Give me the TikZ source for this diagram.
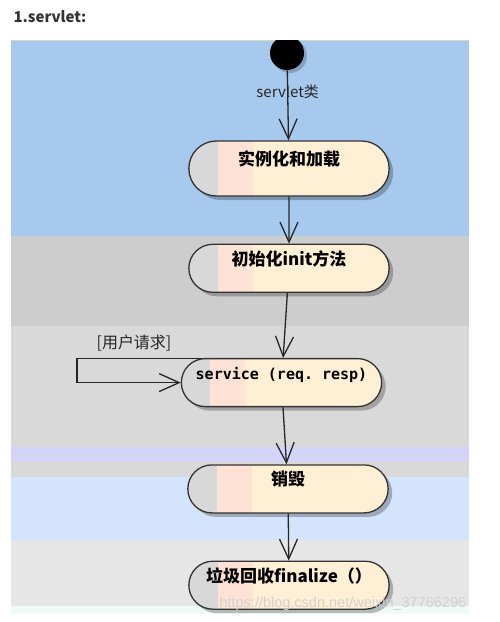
\documentclass[tikz,border=0pt]{standalone}
\usepackage{fontspec}
\setmainfont{Noto Sans CJK SC}
\setmonofont{DejaVu Sans Mono}
\newfontfamily\wmfont{Liberation Sans}
\usetikzlibrary{
  shapes.misc,  % Shape "rounded rectangle"
  arrows.meta,
  positioning,  % Function "of" (e.g. [below=of x])
  shadows,      % Style "drop shadow"
}
\definecolor{bandblue}{RGB}{167,201,238}
\definecolor{bandgray}{RGB}{205,205,205}
\definecolor{bandlight}{RGB}{217,217,217}
\definecolor{bandlilac}{RGB}{212,212,248}
\definecolor{bandsky}{RGB}{212,228,252}
\definecolor{bandpale}{RGB}{230,230,230}
\definecolor{bandmint}{RGB}{240,250,246}
\definecolor{topline}{RGB}{200,220,200}
\definecolor{pillcream}{RGB}{255,239,212}
\definecolor{pillpink}{RGB}{255,226,214}
\definecolor{pillgray}{RGB}{216,216,216}
\def\mywidth{207pt}
\def\myheight{48pt}
\def\mystripe{29pt}
\def\mypink{64pt}
\tikzset{
  x=1pt,
  y=-1pt,
  >={Straight Barb[length=20pt,width=18pt]},
  my activity/.style={
    draw=black!80,
    line width=1.3pt,
    rounded rectangle,
    minimum width=\mywidth,
    minimum height=\myheight,
    fill=pillcream,
    text height=12pt,
    text depth=18pt,
    font=\fontsize{17}{20}\selectfont\bfseries,
    path picture={
      \fill[pillgray] (path picture bounding box.south west)
        rectangle ([xshift=\mystripe]path picture bounding box.north west);
      \fill[pillpink] ([xshift=\mystripe]path picture bounding box.south west)
        rectangle ([xshift=\mypink]path picture bounding box.north west);
    },
    drop shadow={shadow xshift=4pt,shadow yshift=-4pt,fill=black,opacity=.25}
  },
  my start/.style={
    circle,
    fill=black,
    minimum size=34pt,
    inner sep=0pt,
    drop shadow={shadow xshift=3pt,shadow yshift=-3pt,fill=black,opacity=.2}
  },
  my guard/.style={
    text=black!85,
    inner sep=1pt,
    font=\fontsize{15}{18}\selectfont
  },
  my flow/.style={
    ->,
    line width=1.3pt,
    draw=black!85
  }
}

\begin{document}
\begin{tikzpicture}
\useasboundingbox (0,0) rectangle (499,622);
% swimlane bands
\fill[bandblue]  (11,40)  rectangle (469,236);
\fill[bandgray]  (11,236) rectangle (469,326);
\fill[bandlight] (11,326) rectangle (469,447);
\fill[bandlilac] (11,447) rectangle (469,462);
\fill[bandlight] (11,462) rectangle (469,477);
\fill[bandsky]   (11,477) rectangle (469,540);
\fill[bandpale]  (11,540) rectangle (469,606);
\fill[bandmint]  (11,606) rectangle (469,614);
\draw[topline,line width=1pt] (11,40.5) -- (469,40.5);
\node[anchor=west,text=black!80,font=\fontsize{15}{18}\selectfont\bfseries]
  (title) at (10,17) {1.servlet:};
\begin{scope}
  \clip (11,40) rectangle (469,614);
  \node[my start] (s) at (287,53) {};
\end{scope}
\node[my activity,minimum height=55pt] (0) at (289,168.5) {实例化和加载};
\node[my activity]                (1) [below=47pt of 0] {初始化init方法};
\node[my activity,xshift=-7.5pt]  (2) [below=65pt of 1]
  [font=\fontsize{15}{18}\selectfont\ttfamily\bfseries] {service (req. resp)};
\node[my activity,xshift=6.5pt]   (3) [below=57pt of 2] {销毁};
\node[my activity,xshift=1pt]     (4) [below=47pt of 3] {垃圾回收finalize（）};
\coordinate (loop) at (77,368);
\node[my guard,font=\fontsize{16}{18}\selectfont] (req) at (134,343) {[用户请求]};
\path[my flow] (s) edge node[my guard,pos=.31] {servlet类} (0)
               (0) edge (1)
               (1) edge (2)
               (2) edge (3)
               (3) edge (4);
\draw[my flow] (2.163) -| (loop) |- (2.west);
\node[anchor=west,text=black!18,font=\wmfont\fontsize{14.5}{16}\selectfont]
  (wm) at (216,604) {https://blog.csdn.net/weixin\_37766296};
\end{tikzpicture}
\end{document}
